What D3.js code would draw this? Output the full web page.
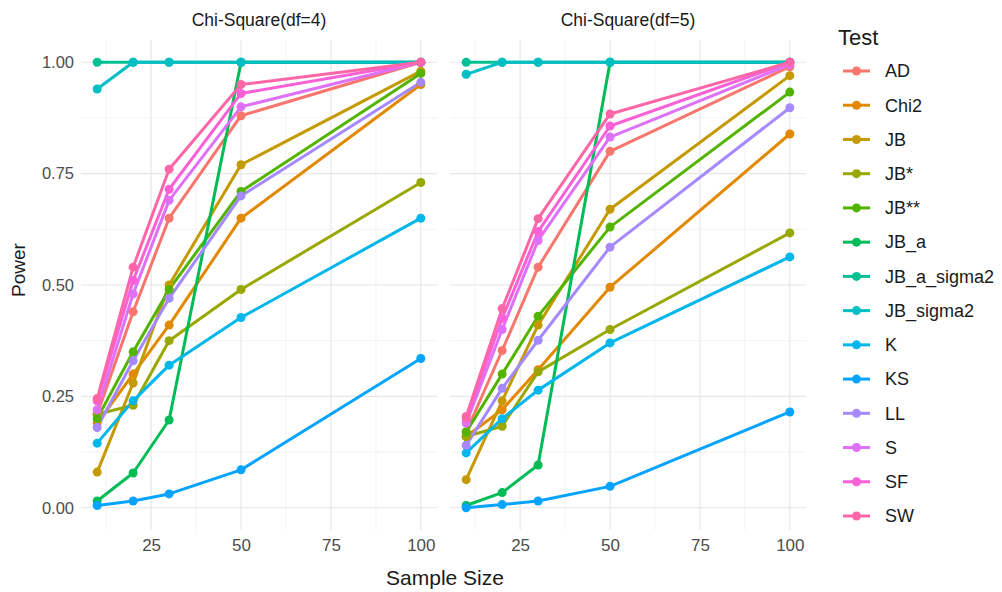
<!DOCTYPE html>
<html>
<head>
<meta charset="utf-8">
<script src="https://cdn.jsdelivr.net/npm/d3@7"></script>
<style>
  body { margin: 0; background: #fff; }
  svg text { font-family: "Liberation Sans", Arial, sans-serif; }
</style>
</head>
<body>
<div id="chart"></div>
<script>
// sample sizes on the x axis
var sampleSizes = [10, 20, 30, 50, 100];
var xTicks = [25, 50, 75, 100];
var yTicks = [0, 0.25, 0.5, 0.75, 1];
var panels = ["Chi-Square(df=4)", "Chi-Square(df=5)"];
var tests = ["AD", "Chi2", "JB", "JB*", "JB**", "JB_a", "JB_a_sigma2", "JB_sigma2",
             "K", "KS", "LL", "S", "SF", "SW"];
var colors = ["#F8766D", "#E38900", "#C49A00", "#99A800", "#53B400", "#00BC56", "#00C094",
              "#00BFC4", "#00B6EB", "#06A4FF", "#A58AFF", "#DF70F8", "#FB61D7", "#FF66A8"];

// power per test (rows in the order of tests), df = 4
var powerDf4 = [
  [0.21, 0.44, 0.65, 0.88, 1.00],   // AD
  [0.19, 0.30, 0.41, 0.65, 0.95],   // Chi2
  [0.08, 0.28, 0.50, 0.77, 0.98],   // JB
  [0.21, 0.23, 0.375, 0.49, 0.73],  // JB*
  [0.20, 0.35, 0.49, 0.71, 0.975],  // JB**
  [0.015, 0.078, 0.197, 1.00, 1.00],// JB_a
  [1.00, 1.00, 1.00, 1.00, 1.00],   // JB_a_sigma2
  [0.94, 1.00, 1.00, 1.00, 1.00],   // JB_sigma2
  [0.145, 0.24, 0.32, 0.427, 0.65], // K
  [0.005, 0.015, 0.031, 0.085, 0.335], // KS
  [0.18, 0.33, 0.47, 0.70, 0.955],  // LL
  [0.22, 0.48, 0.69, 0.90, 1.00],   // S
  [0.24, 0.51, 0.715, 0.93, 1.00],  // SF
  [0.245, 0.54, 0.76, 0.95, 1.00]   // SW
];

// power per test, df = 5
var powerDf5 = [
  [0.17, 0.353, 0.54, 0.80, 0.99],  // AD
  [0.16, 0.22, 0.31, 0.495, 0.839], // Chi2
  [0.063, 0.24, 0.41, 0.67, 0.97],  // JB
  [0.16, 0.183, 0.305, 0.40, 0.617],// JB*
  [0.17, 0.30, 0.43, 0.63, 0.933],  // JB**
  [0.005, 0.034, 0.096, 1.00, 1.00],// JB_a
  [1.00, 1.00, 1.00, 1.00, 1.00],   // JB_a_sigma2
  [0.973, 1.00, 1.00, 1.00, 1.00],  // JB_sigma2
  [0.123, 0.20, 0.264, 0.37, 0.563],// K
  [0.0, 0.007, 0.015, 0.048, 0.215],// KS
  [0.14, 0.268, 0.376, 0.585, 0.898], // LL
  [0.19, 0.40, 0.60, 0.832, 0.995], // S
  [0.20, 0.425, 0.62, 0.857, 1.00], // SF
  [0.205, 0.447, 0.649, 0.884, 1.00]// SW
];

var width = 1002, height = 592;
var svg = d3.select("#chart").append("svg")
    .attr("width", width)
    .attr("height", height);

var color = d3.scaleOrdinal().domain(tests).range(colors);

var y = d3.scaleLinear().domain([-0.05, 1.05]).range([530, 40]);
var panelX = [[81, 437], [450, 806]];
var panelData = [powerDf4, powerDf5];

panels.forEach(function (title, p) {
    var x = d3.scaleLinear().domain([5.5, 104.5]).range(panelX[p]);
    var g = svg.append("g");

    // minor grid
    var xMinor = [12.5, 37.5, 62.5, 87.5];
    var yMinor = [0.125, 0.375, 0.625, 0.875];
    g.selectAll(".xminor").data(xMinor).enter().append("line")
        .attr("x1", function (d) { return x(d); }).attr("x2", function (d) { return x(d); })
        .attr("y1", y.range()[0]).attr("y2", y.range()[1])
        .attr("stroke", "#EBEBEB").attr("stroke-width", 0.6);
    g.selectAll(".yminor").data(yMinor).enter().append("line")
        .attr("x1", x.range()[0]).attr("x2", x.range()[1])
        .attr("y1", function (d) { return y(d); }).attr("y2", function (d) { return y(d); })
        .attr("stroke", "#EBEBEB").attr("stroke-width", 0.6);

    // major grid
    g.selectAll(".xmajor").data(xTicks).enter().append("line")
        .attr("x1", function (d) { return x(d); }).attr("x2", function (d) { return x(d); })
        .attr("y1", y.range()[0]).attr("y2", y.range()[1])
        .attr("stroke", "#E6E6E6").attr("stroke-width", 1.1);
    g.selectAll(".ymajor").data(yTicks).enter().append("line")
        .attr("x1", x.range()[0]).attr("x2", x.range()[1])
        .attr("y1", function (d) { return y(d); }).attr("y2", function (d) { return y(d); })
        .attr("stroke", "#E6E6E6").attr("stroke-width", 1.1);

    // x axis labels
    var xAxis = g.append("g")
        .attr("transform", "translate(0," + (y.range()[0] + 3) + ")")
        .call(d3.axisBottom(x).tickValues(xTicks).tickSize(0).tickPadding(6));
    xAxis.select(".domain").remove();
    xAxis.selectAll("text").attr("font-size", 17).attr("fill", "#4D4D4D")
        .attr("font-family", "Liberation Sans, Arial, sans-serif");

    if (p === 0) {
        var yAxis = g.append("g")
            .attr("transform", "translate(" + (x.range()[0] - 5) + ",0)")
            .call(d3.axisLeft(y).tickValues(yTicks).tickFormat(d3.format(".2f")).tickSize(0).tickPadding(2));
        yAxis.select(".domain").remove();
        yAxis.selectAll("text").attr("font-size", 16.5).attr("fill", "#4D4D4D")
            .attr("font-family", "Liberation Sans, Arial, sans-serif");
    }

    // strip title
    g.append("text")
        .attr("x", (x.range()[0] + x.range()[1]) / 2)
        .attr("y", 26)
        .attr("text-anchor", "middle")
        .attr("font-size", 17.5)
        .attr("fill", "#1A1A1A")
        .text(title);

    var line = d3.line()
        .x(function (d, i) { return x(sampleSizes[i]); })
        .y(function (d) { return y(d); });

    var rows = panelData[p];
    g.selectAll(".series").data(rows).enter().append("path")
        .attr("d", line)
        .attr("fill", "none")
        .attr("stroke", function (d, i) { return color(tests[i]); })
        .attr("stroke-width", 3)
        .attr("stroke-linejoin", "round");

    rows.forEach(function (row, i) {
        g.selectAll(".pt" + i).data(row).enter().append("circle")
            .attr("cx", function (d, j) { return x(sampleSizes[j]); })
            .attr("cy", function (d) { return y(d); })
            .attr("r", 4.5)
            .attr("fill", color(tests[i]));
    });
});

// axis titles
svg.append("text")
    .attr("x", 445).attr("y", 585)
    .attr("text-anchor", "middle")
    .attr("font-size", 21)
    .attr("fill", "#1A1A1A")
    .text("Sample Size");
svg.append("text")
    .attr("transform", "translate(25,270) rotate(-90)")
    .attr("text-anchor", "middle")
    .attr("font-size", 19)
    .attr("fill", "#1A1A1A")
    .text("Power");

// legend
var legend = svg.append("g").attr("transform", "translate(838,0)");
legend.append("text")
    .attr("x", 0).attr("y", 45)
    .attr("font-size", 22)
    .attr("fill", "#1A1A1A")
    .text("Test");
var ly = d3.scalePoint().domain(tests).range([71, 516]);
var items = legend.selectAll(".item").data(tests).enter().append("g")
    .attr("transform", function (d) { return "translate(0," + ly(d) + ")"; });
items.append("line")
    .attr("x1", 5).attr("x2", 32).attr("y1", 0).attr("y2", 0)
    .attr("stroke", function (d) { return color(d); })
    .attr("stroke-width", 3);
items.append("circle")
    .attr("cx", 18.5).attr("cy", 0).attr("r", 4.5)
    .attr("fill", function (d) { return color(d); });
items.append("text")
    .attr("x", 47).attr("y", 0).attr("dy", "0.35em")
    .attr("font-size", 18)
    .attr("fill", "#1A1A1A")
    .text(function (d) { return d; });
</script>
</body>
</html>
